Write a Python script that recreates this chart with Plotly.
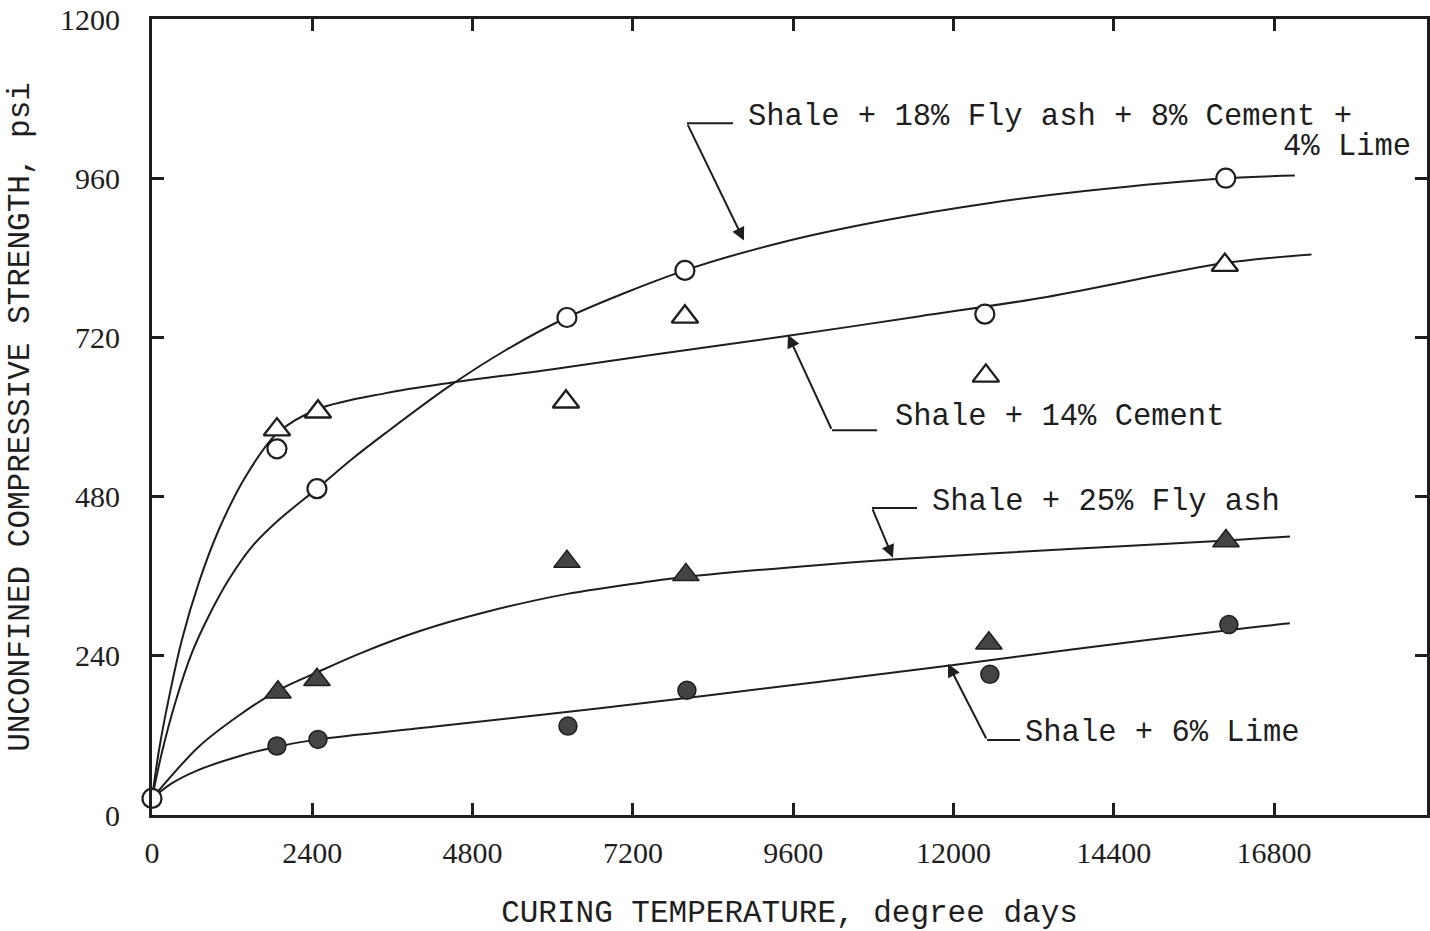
import plotly.graph_objects as go

# ---------------- data ----------------
x_tick_vals = [0, 2400, 4800, 7200, 9600, 12000, 14400, 16800]
y_tick_vals = [0, 240, 480, 720, 960, 1200]

# Shale + 18% Fly ash + 8% Cement + 4% Lime (open circles)
mixA_pts_x = [0, 1871, 2470, 6213, 7979, 12470, 16078]
mixA_pts_y = [25, 552, 492, 750, 821, 755, 960]
mixA_curve_x = [0, 150, 350, 600, 850, 1150, 1500, 1900, 2470, 3000, 3500, 4431, 5300, 6213, 7979,
                9500, 11000, 12500, 14000, 16078, 17110]
mixA_curve_y = [25, 95, 170, 245, 300, 355, 405, 445, 492, 537, 576, 645, 701, 750, 821,
                865, 897, 922, 941, 960, 964]

# Shale + 14% Cement (open triangles)
mixB_pts_x = [1871, 2485, 6198, 7979, 12485, 16063]
mixB_pts_y = [581, 608, 623, 751, 662, 829]
mixB_curve_x = [0, 100, 250, 450, 700, 1000, 1400, 1870, 2485, 3500, 4430, 6000, 7500, 9500,
                11500, 13400, 16060, 17360]
mixB_curve_y = [25, 95, 175, 265, 350, 430, 510, 575, 612, 636, 651, 672, 694, 722,
                752, 781, 832, 845]

# Shale + 25% Fly ash (filled triangles)
mixC_pts_x = [1886, 2470, 6213, 7994, 12530, 16080]
mixC_pts_y = [185, 204, 382, 362, 259, 413]
mixC_curve_x = [0, 700, 1300, 1890, 2470, 3100, 4000, 5000, 6200, 7450, 8000, 10000, 11080,
                13740, 16100, 17040]
mixC_curve_y = [25, 103, 150, 188, 215, 243, 277, 306, 333, 352, 359, 377, 385,
                401, 414, 420]

# Shale + 6% Lime (filled circles)
mixD_pts_x = [1871, 2485, 6228, 8009, 12545, 16123]
mixD_pts_y = [104, 114, 134, 188, 212, 287]
mixD_curve_x = [0, 300, 674, 1317, 1871, 2485, 4206, 6706, 10000, 11916, 13743, 16138, 17036]
mixD_curve_y = [25, 48, 67, 89, 103, 114, 133, 161, 201, 225, 249, 279, 289]

# ---------------- style ----------------
INK = "#1e1e1e"
MONO = "Liberation Mono, Courier New, monospace"
SERIF = "Liberation Serif, Times New Roman, serif"

fig = go.Figure()

for cx, cy in [(mixA_curve_x, mixA_curve_y), (mixB_curve_x, mixB_curve_y),
               (mixC_curve_x, mixC_curve_y), (mixD_curve_x, mixD_curve_y)]:
    fig.add_trace(go.Scatter(x=cx, y=cy, mode="lines",
                             line=dict(color=INK, width=2, shape="spline", smoothing=0.9),
                             hoverinfo="skip", showlegend=False))

fig.add_trace(go.Scatter(x=mixA_pts_x, y=mixA_pts_y, mode="markers", cliponaxis=False,
                         marker=dict(symbol="circle", size=19, color="white",
                                     line=dict(color=INK, width=2.2)),
                         name="Shale + 18% Fly ash + 8% Cement + 4% Lime", showlegend=False))
fig.add_trace(go.Scatter(x=mixB_pts_x, y=mixB_pts_y, mode="markers", cliponaxis=False,
                         marker=dict(symbol="triangle-up", size=23, color="white",
                                     line=dict(color=INK, width=2.4)),
                         name="Shale + 14% Cement", showlegend=False))
fig.add_trace(go.Scatter(x=mixC_pts_x, y=mixC_pts_y, mode="markers", cliponaxis=False,
                         marker=dict(symbol="triangle-up", size=23, color="#444444",
                                     line=dict(color=INK, width=1.5)),
                         name="Shale + 25% Fly ash", showlegend=False))
fig.add_trace(go.Scatter(x=mixD_pts_x, y=mixD_pts_y, mode="markers", cliponaxis=False,
                         marker=dict(symbol="circle", size=18, color="#444444",
                                     line=dict(color=INK, width=1.5)),
                         name="Shale + 6% Lime", showlegend=False))

# ---------------- labels with leader arrows ----------------
label_text = ["Shale + 18% Fly ash + 8% Cement +", "Shale + 14% Cement",
              "Shale + 25% Fly ash", "Shale + 6% Lime"]
label_x = [8900, 11100, 11650, 13040]
label_y = [1052, 600, 472, 124]
leader_x0 = [8010, 10181, 10780, 12502]
leader_x1 = [8699, 10855, 11454, 12996]
leader_y = [1043, 580, 463, 113]
arrow_tip_x = [8863, 9522, 11094, 11918]
arrow_tip_y = [866, 724, 388, 228]

annotations = []
shapes = []
for i in range(4):
    annotations.append(dict(x=label_x[i], y=label_y[i], xref="x", yref="y", text=label_text[i],
                            showarrow=False, xanchor="left", yanchor="middle",
                            font=dict(family=MONO, size=30.5, color=INK)))
    shapes.append(dict(type="line", xref="x", yref="y", x0=leader_x0[i], x1=leader_x1[i],
                       y0=leader_y[i], y1=leader_y[i], line=dict(color=INK, width=2)))
    annotations.append(dict(x=arrow_tip_x[i], y=arrow_tip_y[i], xref="x", yref="y",
                            ax=leader_x0[i], ay=leader_y[i], axref="x", ayref="y",
                            showarrow=True, arrowhead=2, arrowsize=1.3, arrowwidth=2,
                            arrowcolor=INK, standoff=0, text=""))
annotations.append(dict(x=18880, y=1007, xref="x", yref="y", text="4% Lime", showarrow=False,
                        xanchor="right", yanchor="middle",
                        font=dict(family=MONO, size=30.5, color=INK)))

fig.update_layout(
    width=1430, height=931,
    margin=dict(l=152, r=3, t=19, b=116, autoexpand=False),
    paper_bgcolor="white", plot_bgcolor="white",
    showlegend=False,
    annotations=annotations, shapes=shapes,
)

axis_common = dict(showline=True, linewidth=3, linecolor=INK, mirror="allticks",
                   ticks="inside", ticklen=12, tickwidth=3, tickcolor=INK,
                   showgrid=False, zeroline=False,
                   tickfont=dict(family=SERIF, size=30, color=INK))

fig.update_xaxes(range=[0, 19090], tickvals=x_tick_vals,
                 ticktext=[str(v) for v in x_tick_vals], ticklabelstandoff=9,
                 title=dict(text="CURING TEMPERATURE, degree days",
                            font=dict(family=MONO, size=31, color=INK), standoff=34),
                 **axis_common)
fig.update_yaxes(range=[0, 1200], tickvals=y_tick_vals,
                 ticktext=[str(v) for v in y_tick_vals], ticklabelstandoff=23,
                 title=dict(text="UNCONFINED COMPRESSIVE STRENGTH, psi",
                            font=dict(family=MONO, size=31, color=INK), standoff=22),
                 **axis_common)

fig.write_html("out.html")
